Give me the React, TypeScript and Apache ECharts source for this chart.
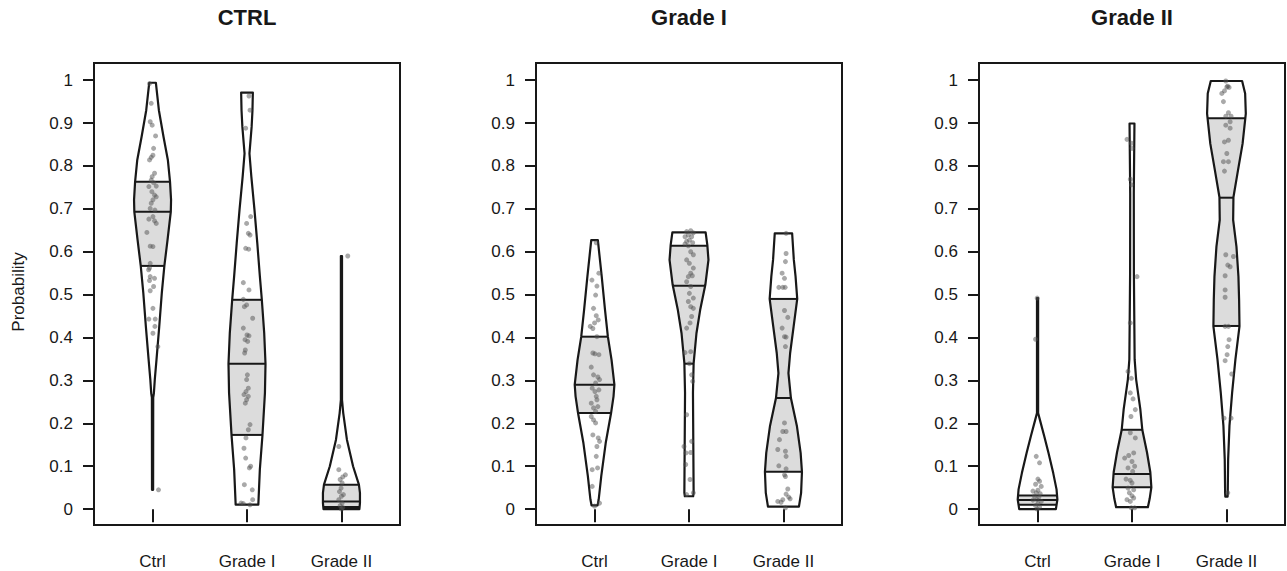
import React, { useEffect, useRef } from 'react';
import * as echarts from 'echarts';

const FONT = '"Liberation Sans", Arial, Helvetica, sans-serif';

const panelTitles = ['CTRL', 'Grade I', 'Grade II'];
const categories = ['Ctrl', 'Grade I', 'Grade II'];
const categoryPositions = [1, 2, 3];
const yTicks = [0, 0.1, 0.2, 0.3, 0.4, 0.5, 0.6, 0.7, 0.8, 0.9, 1];
const yTickLabels = ['0', '0.1', '0.2', '0.3', '0.4', '0.5', '0.6', '0.7', '0.8', '0.9', '1'];
const yAxisTitle = 'Probability';

// Violin outlines: [probability, half width (category units)], bottom to top
const ctrlPanelCtrlProfile = [[0.045, 0.006], [0.26, 0.007], [0.27, 0.014], [0.303, 0.024], [0.349, 0.042], [0.426, 0.071], [0.504, 0.098], [0.567, 0.125], [0.628, 0.159], [0.693, 0.193], [0.721, 0.196], [0.763, 0.185], [0.814, 0.162], [0.868, 0.116], [0.93, 0.067], [0.994, 0.035]];
const ctrlPanelG1Profile = [[0.0105, 0.12], [0.092, 0.136], [0.173, 0.164], [0.271, 0.19], [0.339, 0.196], [0.411, 0.182], [0.488, 0.157], [0.543, 0.136], [0.62, 0.109], [0.698, 0.079], [0.775, 0.046], [0.829, 0.026], [0.891, 0.049], [0.93, 0.058], [0.971, 0.062]];
const ctrlPanelG2Profile = [[0.0, 0.19], [0.014, 0.196], [0.038, 0.196], [0.057, 0.185], [0.1, 0.123], [0.162, 0.058], [0.224, 0.019], [0.255, 0.006], [0.59, 0.006]];
const g1PanelCtrlProfile = [[0.0088, 0.032], [0.023, 0.044], [0.077, 0.071], [0.154, 0.118], [0.224, 0.175], [0.263, 0.201], [0.29, 0.21], [0.348, 0.18], [0.402, 0.141], [0.464, 0.111], [0.542, 0.076], [0.627, 0.035]];
const g1PanelG1Profile = [[0.03, 0.044], [0.038, 0.049], [0.271, 0.042], [0.34, 0.049], [0.41, 0.079], [0.464, 0.118], [0.523, 0.173], [0.581, 0.206], [0.616, 0.194], [0.645, 0.176]];
const g1PanelG2Profile = [[0.006, 0.164], [0.038, 0.187], [0.087, 0.196], [0.131, 0.182], [0.193, 0.143], [0.259, 0.079], [0.317, 0.053], [0.364, 0.071], [0.426, 0.108], [0.49, 0.146], [0.543, 0.128], [0.581, 0.11], [0.643, 0.092]];
const g2PanelCtrlProfile = [[0.0, 0.194], [0.022, 0.21], [0.046, 0.201], [0.084, 0.166], [0.131, 0.116], [0.17, 0.071], [0.208, 0.025], [0.224, 0.006], [0.492, 0.006]];
const g2PanelG1Profile = [[0.0045, 0.168], [0.024, 0.187], [0.051, 0.205], [0.086, 0.194], [0.132, 0.159], [0.185, 0.109], [0.233, 0.088], [0.302, 0.044], [0.349, 0.028], [0.55, 0.02], [0.736, 0.019], [0.899, 0.026]];
const g2PanelG2Profile = [[0.029, 0.012], [0.038, 0.014], [0.116, 0.018], [0.194, 0.032], [0.271, 0.06], [0.349, 0.095], [0.426, 0.138], [0.488, 0.134], [0.542, 0.127], [0.612, 0.106], [0.674, 0.071], [0.727, 0.074], [0.791, 0.123], [0.852, 0.171], [0.922, 0.205], [0.969, 0.198], [0.998, 0.166]];

// [first quartile, median, third quartile]
const ctrlPanelCtrlQuart = [0.567, 0.693, 0.763];
const ctrlPanelG1Quart = [0.173, 0.339, 0.488];
const ctrlPanelG2Quart = [0.005, 0.018, 0.057];
const g1PanelCtrlQuart = [0.224, 0.29, 0.402];
const g1PanelG1Quart = [0.339, 0.521, 0.614];
const g1PanelG2Quart = [0.087, 0.259, 0.49];
const g2PanelCtrlQuart = [0.01, 0.021, 0.032];
const g2PanelG1Quart = [0.051, 0.082, 0.185];
const g2PanelG2Quart = [0.427, 0.726, 0.911];

// Jittered samples: [horizontal jitter (category units), probability]
const ctrlPanelCtrlPts = [[-0.032, 0.992], [-0.014, 0.946], [-0.025, 0.903], [-0.004, 0.895], [0.032, 0.87], [0.011, 0.841], [0.004, 0.825], [-0.014, 0.82], [-0.032, 0.814], [0.021, 0.783], [-0.004, 0.775], [-0.014, 0.767], [0.011, 0.761], [0.039, 0.753], [-0.039, 0.752], [-0.007, 0.74], [0.021, 0.732], [0.039, 0.728], [0.004, 0.721], [-0.014, 0.713], [-0.025, 0.701], [0.025, 0.697], [0.004, 0.682], [-0.039, 0.676], [0.021, 0.672], [0.039, 0.666], [-0.06, 0.645], [-0.025, 0.613], [0.004, 0.612], [-0.025, 0.573], [-0.032, 0.562], [-0.042, 0.558], [-0.025, 0.542], [0.021, 0.538], [-0.032, 0.533], [0.011, 0.519], [-0.025, 0.509], [0.004, 0.468], [-0.039, 0.443], [0.028, 0.443], [0.025, 0.426], [0.004, 0.41], [0.056, 0.379], [0.063, 0.045]];
const ctrlPanelG1Pts = [[0.021, 0.963], [0.032, 0.93], [-0.014, 0.888], [0.039, 0.682], [-0.004, 0.666], [0.014, 0.643], [0.032, 0.639], [-0.014, 0.608], [0.018, 0.606], [-0.039, 0.528], [0.021, 0.511], [-0.039, 0.489], [-0.004, 0.476], [-0.028, 0.472], [0.06, 0.445], [-0.039, 0.422], [0.0, 0.406], [0.021, 0.404], [-0.021, 0.395], [0.007, 0.391], [-0.018, 0.371], [-0.025, 0.364], [0.004, 0.313], [-0.004, 0.302], [0.014, 0.282], [-0.011, 0.274], [-0.032, 0.267], [0.014, 0.263], [-0.004, 0.255], [-0.018, 0.247], [0.032, 0.197], [0.014, 0.185], [-0.011, 0.166], [-0.032, 0.142], [-0.014, 0.119], [0.039, 0.1], [0.025, 0.096], [-0.028, 0.057], [0.056, 0.045], [-0.063, 0.014], [-0.039, 0.013], [0.032, 0.01], [0.06, 0.022]];
const ctrlPanelG2Pts = [[0.067, 0.59], [-0.028, 0.146], [-0.028, 0.092], [0.042, 0.08], [0.014, 0.075], [-0.014, 0.069], [0.007, 0.061], [-0.004, 0.049], [-0.021, 0.041], [0.021, 0.034], [0.0, 0.03], [-0.028, 0.022], [0.007, 0.014], [-0.014, 0.008], [0.014, 0.004], [0.0, 0.0]];
const g1PanelCtrlPts = [[0.018, 0.621], [0.046, 0.55], [-0.028, 0.534], [0.025, 0.52], [0.011, 0.499], [-0.011, 0.468], [0.018, 0.451], [0.039, 0.441], [0.0, 0.434], [-0.046, 0.426], [-0.018, 0.421], [0.025, 0.402], [-0.018, 0.364], [0.046, 0.36], [0.004, 0.362], [-0.035, 0.331], [-0.011, 0.313], [0.035, 0.308], [0.053, 0.302], [0.011, 0.294], [-0.025, 0.282], [0.046, 0.278], [0.004, 0.274], [0.018, 0.263], [-0.035, 0.247], [0.025, 0.255], [0.035, 0.239], [-0.011, 0.236], [0.011, 0.228], [-0.035, 0.216], [-0.011, 0.208], [0.011, 0.201], [-0.018, 0.173], [0.039, 0.166], [0.053, 0.158], [0.025, 0.146], [0.018, 0.123], [0.032, 0.096], [-0.025, 0.092], [-0.025, 0.053], [0.053, 0.014], [0.0, 0.007]];
const g1PanelG1Pts = [[-0.025, 0.647], [0.018, 0.649], [0.046, 0.644], [-0.007, 0.639], [-0.042, 0.635], [0.028, 0.635], [0.004, 0.627], [-0.025, 0.624], [0.039, 0.621], [-0.042, 0.618], [-0.007, 0.614], [0.018, 0.6], [0.046, 0.593], [-0.025, 0.581], [0.004, 0.573], [0.046, 0.562], [0.018, 0.55], [-0.007, 0.542], [0.035, 0.544], [-0.025, 0.53], [0.018, 0.519], [0.004, 0.503], [0.046, 0.492], [-0.007, 0.484], [0.018, 0.472], [0.046, 0.468], [0.028, 0.449], [0.011, 0.434], [-0.025, 0.422], [-0.042, 0.365], [0.018, 0.367], [0.004, 0.339], [0.028, 0.313], [0.039, 0.298], [-0.025, 0.22], [-0.053, 0.146], [0.028, 0.158], [-0.032, 0.131], [0.018, 0.132], [-0.035, 0.104], [0.011, 0.069], [0.046, 0.038], [-0.025, 0.034]];
const g1PanelG2Pts = [[0.028, 0.643], [0.028, 0.596], [0.021, 0.577], [-0.014, 0.55], [0.011, 0.538], [-0.049, 0.517], [-0.007, 0.517], [0.018, 0.517], [0.011, 0.463], [0.046, 0.447], [-0.014, 0.422], [0.011, 0.402], [0.028, 0.401], [0.021, 0.379], [0.011, 0.201], [-0.007, 0.181], [0.028, 0.181], [-0.042, 0.162], [-0.06, 0.139], [0.021, 0.135], [0.028, 0.123], [-0.049, 0.101], [0.028, 0.094], [0.011, 0.08], [0.021, 0.076], [0.046, 0.047], [0.028, 0.035], [0.056, 0.028], [-0.007, 0.022], [-0.06, 0.018], [-0.025, 0.016], [0.071, 0.024], [0.021, 0.003]];
const g2PanelCtrlPts = [[-0.004, 0.492], [-0.021, 0.396], [-0.014, 0.123], [0.021, 0.108], [0.004, 0.07], [0.021, 0.065], [-0.021, 0.058], [0.039, 0.053], [-0.049, 0.042], [0.004, 0.044], [-0.014, 0.038], [0.028, 0.036], [-0.032, 0.03], [0.014, 0.028], [-0.007, 0.022], [-0.049, 0.021], [0.039, 0.018], [0.004, 0.013], [-0.021, 0.008], [0.021, 0.005], [-0.004, 0.0]];
const g2PanelG1Pts = [[-0.053, 0.862], [-0.007, 0.853], [0.0, 0.841], [-0.018, 0.769], [-0.007, 0.756], [0.053, 0.542], [-0.018, 0.434], [-0.042, 0.321], [-0.007, 0.305], [-0.018, 0.271], [0.011, 0.257], [0.035, 0.232], [-0.011, 0.216], [-0.018, 0.178], [0.035, 0.166], [-0.078, 0.119], [-0.035, 0.125], [0.018, 0.131], [0.0, 0.111], [-0.042, 0.096], [0.028, 0.1], [0.007, 0.088], [-0.063, 0.07], [-0.018, 0.067], [0.0, 0.061], [-0.042, 0.049], [0.018, 0.045], [-0.028, 0.038], [0.0, 0.031], [-0.053, 0.022], [-0.018, 0.018], [0.018, 0.026], [-0.007, 0.003], [0.028, 0.003]];
const g2PanelG2Pts = [[-0.007, 0.998], [0.014, 0.986], [-0.021, 0.975], [0.004, 0.984], [0.028, 0.983], [-0.049, 0.969], [-0.032, 0.95], [0.021, 0.924], [0.049, 0.916], [-0.007, 0.916], [0.039, 0.903], [-0.007, 0.895], [0.039, 0.888], [0.021, 0.86], [-0.021, 0.856], [0.004, 0.829], [-0.032, 0.81], [0.021, 0.81], [-0.021, 0.788], [-0.007, 0.593], [0.074, 0.589], [0.014, 0.569], [0.039, 0.565], [-0.014, 0.544], [-0.014, 0.511], [-0.014, 0.494], [-0.014, 0.426], [0.021, 0.426], [0.028, 0.395], [0.014, 0.379], [0.007, 0.36], [-0.014, 0.346], [0.056, 0.315], [-0.025, 0.212], [0.049, 0.212], [0.014, 0.038]];

const violinProfiles = [ctrlPanelCtrlProfile, ctrlPanelG1Profile, ctrlPanelG2Profile, g1PanelCtrlProfile, g1PanelG1Profile, g1PanelG2Profile, g2PanelCtrlProfile, g2PanelG1Profile, g2PanelG2Profile];
const violinQuartiles = [ctrlPanelCtrlQuart, ctrlPanelG1Quart, ctrlPanelG2Quart, g1PanelCtrlQuart, g1PanelG1Quart, g1PanelG2Quart, g2PanelCtrlQuart, g2PanelG1Quart, g2PanelG2Quart];
const violinPoints = [ctrlPanelCtrlPts, ctrlPanelG1Pts, ctrlPanelG2Pts, g1PanelCtrlPts, g1PanelG1Pts, g1PanelG2Pts, g2PanelCtrlPts, g2PanelG1Pts, g2PanelG2Pts];

const GRID_LEFT = [94, 536, 979];
const GRID_TOP = 63;
const GRID_W = 306;
const GRID_H = 462;
const INK = '#181818';

function halfWidthAt(profile: number[][], y: number): number {
  if (y <= profile[0][0]) return profile[0][1];
  for (let i = 1; i < profile.length; i++) {
    if (y <= profile[i][0]) {
      const [y0, w0] = profile[i - 1];
      const [y1, w1] = profile[i];
      return w0 + ((w1 - w0) * (y - y0)) / (y1 - y0);
    }
  }
  return profile[profile.length - 1][1];
}

function renderViolin(params: any, api: any) {
  const cx = api.value(0);
  const k = api.value(2);
  const prof = violinProfiles[k];
  const [q1, med, q3] = violinQuartiles[k];
  const side = (pts: number[][]) =>
    pts.map(([y, w]) => api.coord([cx + w, y])).concat(
      pts.slice().reverse().map(([y, w]) => api.coord([cx - w, y]))
    );
  const inner = [[q1, halfWidthAt(prof, q1)]]
    .concat(prof.filter((p) => p[0] > q1 && p[0] < q3))
    .concat([[q3, halfWidthAt(prof, q3)]]);
  const hline = (q: number) => {
    const w = halfWidthAt(prof, q);
    const a = api.coord([cx - w, q]);
    const b = api.coord([cx + w, q]);
    return {
      type: 'line',
      shape: { x1: a[0], y1: a[1], x2: b[0], y2: b[1] },
      style: { stroke: INK, lineWidth: 2 },
    };
  };
  return {
    type: 'group',
    children: [
      { type: 'polygon', shape: { points: side(inner) }, style: { fill: '#dcdcdc', stroke: 'none' } },
      hline(q1),
      hline(med),
      hline(q3),
      { type: 'polygon', shape: { points: side(prof) }, style: { fill: 'none', stroke: INK, lineWidth: 2.2, lineJoin: 'round' } },
    ],
  };
}

export default function App() {
  const ref = useRef<HTMLDivElement>(null);
  useEffect(() => {
    if (!ref.current) return;
    const chart = echarts.init(ref.current, undefined, { renderer: 'svg' });
    const panels = [0, 1, 2];
    const series: any[] = [];
    panels.forEach((p) => {
      const data = categoryPositions.map((pos, c) => {
        const k = p * 3 + c;
        return [pos, violinQuartiles[k][1], k];
      });
      series.push({
        type: 'custom',
        xAxisIndex: p,
        yAxisIndex: p,
        dimensions: ['x', 'y', 'k'],
        encode: { x: 0, y: 1 },
        data,
        renderItem: renderViolin,
        silent: true,
        z: 2,
      });
      const pts: number[][] = [];
      categoryPositions.forEach((pos, c) => {
        violinPoints[p * 3 + c].forEach(([dx, v]) => pts.push([pos + dx, v]));
      });
      series.push({
        type: 'scatter',
        xAxisIndex: p,
        yAxisIndex: p,
        data: pts,
        symbol: 'circle',
        symbolSize: 5,
        itemStyle: { color: 'rgba(80,80,80,0.62)' },
        silent: true,
        z: 3,
      });
    });
    const centers = GRID_LEFT.map((l) => l + GRID_W / 2);
    const option: any = {
      animation: false,
      backgroundColor: '#ffffff',
      title: panelTitles.map((t, i) => ({
        text: t,
        left: centers[i],
        top: 6,
        textAlign: 'center',
        padding: 0,
        textStyle: { fontSize: 22, fontWeight: 'bold', color: INK, fontFamily: FONT },
      })),
      graphic: [
        {
          type: 'text',
          x: 18,
          y: 292,
          rotation: Math.PI / 2,
          style: {
            text: yAxisTitle,
            fontSize: 17,
            fontFamily: FONT,
            fill: INK,
            align: 'center',
            verticalAlign: 'middle',
            textAlign: 'center',
            textVerticalAlign: 'middle',
          },
        },
      ],
      grid: GRID_LEFT.map((l) => ({
        left: l,
        top: GRID_TOP,
        width: GRID_W,
        height: GRID_H,
        show: true,
        borderColor: INK,
        borderWidth: 2,
        backgroundColor: 'transparent',
      })),
      xAxis: panels.map((p) => ({
        type: 'value',
        gridIndex: p,
        min: 0.38,
        max: 3.62,
        axisLine: { show: false },
        splitLine: { show: false },
        axisTick: { show: true, customValues: categoryPositions, length: 13, lineStyle: { color: INK, width: 2 } },
        axisLabel: {
          show: true,
          customValues: categoryPositions,
          formatter: (v: number) => categories[Math.round(v) - 1],
          margin: 28,
          fontSize: 17,
          color: INK,
          fontFamily: FONT,
        },
      })),
      yAxis: panels.map((p) => ({
        type: 'value',
        gridIndex: p,
        min: -0.037,
        max: 1.04,
        axisLine: { show: false },
        splitLine: { show: false },
        axisTick: { show: true, customValues: yTicks, length: 11, lineStyle: { color: INK, width: 2 } },
        axisLabel: {
          show: true,
          customValues: yTicks,
          formatter: (v: number) => yTickLabels[Math.round(v * 10)],
          margin: 21,
          fontSize: 17,
          color: INK,
          fontFamily: FONT,
        },
      })),
      series,
    };
    chart.setOption(option);
    return () => chart.dispose();
  }, []);
  return <div ref={ref} style={{ position: 'fixed', left: 0, top: 0, width: 1287, height: 571 }} />;
}
